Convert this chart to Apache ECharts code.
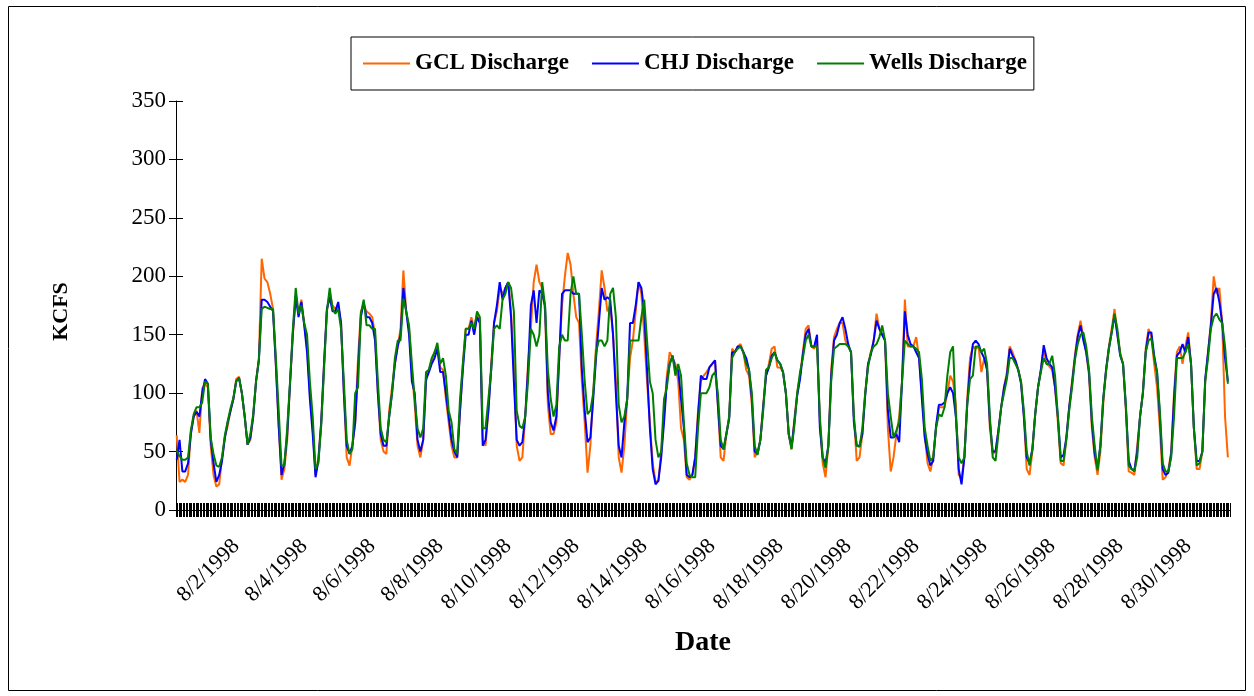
<!DOCTYPE html>
<html>
<head>
<meta charset="utf-8">
<script src="https://cdn.jsdelivr.net/npm/echarts@6/dist/echarts.min.js"></script>
<style>
  html, body { margin: 0; padding: 0; background: #fff; }
  #chart { width: 1254px; height: 696px; }
</style>
</head>
<body>
<div id="chart"></div>
<script>
// Discharge in KCFS, sampled every 2 hours through August 1998 (12 readings per day).
const gclDischarge = [
  64, 24, 26, 24, 30, 67, 80, 85, 66, 104, 108, 105,      // 8/1
  55, 30, 20, 22, 45, 62, 72, 85, 95, 112, 114, 100,      // 8/2
  80, 56, 60, 80, 110, 130, 215, 198, 195, 185, 172, 124, // 8/3
  72, 26, 35, 60, 108, 150, 180, 170, 180, 160, 140, 100, // 8/4
  70, 30, 45, 75, 125, 170, 185, 175, 172, 175, 160, 100, // 8/5
  45, 38, 55, 75, 130, 170, 175, 170, 168, 165, 150, 100, // 8/6
  60, 50, 48, 85, 105, 125, 140, 155, 205, 170, 155, 120, // 8/7
  90, 55, 45, 60, 110, 120, 128, 135, 140, 122, 120, 95,  // 8/8
  75, 55, 45, 45, 85, 125, 155, 155, 165, 155, 168, 160,  // 8/9
  60, 55, 85, 125, 160, 170, 190, 185, 190, 195, 170, 120,// 8/10
  55, 42, 45, 80, 125, 155, 195, 210, 195, 190, 170, 90,  // 8/11
  65, 65, 75, 130, 175, 200, 220, 210, 185, 165, 160, 110,// 8/12
  75, 32, 55, 100, 140, 170, 205, 190, 170, 175, 150, 110,// 8/13
  45, 32, 55, 95, 130, 145, 170, 195, 185, 150, 110, 75,  // 8/14
  40, 24, 25, 50, 80, 115, 135, 130, 125, 110, 70, 60,    // 8/15
  28, 26, 30, 45, 85, 110, 115, 118, 122, 125, 128, 90,   // 8/16
  45, 42, 65, 80, 138, 135, 140, 142, 135, 120, 115, 90,  // 8/17
  45, 50, 60, 90, 115, 125, 138, 140, 122, 122, 118, 100, // 8/18
  65, 52, 78, 100, 115, 135, 155, 158, 140, 138, 145, 75, // 8/19
  40, 28, 55, 120, 148, 155, 160, 160, 145, 140, 135, 80, // 8/20
  42, 45, 65, 100, 125, 135, 145, 168, 155, 150, 145, 70, // 8/21
  33, 45, 65, 80, 110, 180, 140, 140, 140, 148, 130, 100, // 8/22
  65, 40, 33, 45, 70, 88, 88, 88, 100, 115, 110, 90,      // 8/23
  30, 27, 45, 95, 130, 140, 138, 140, 118, 130, 120, 70,  // 8/24
  48, 50, 68, 88, 105, 118, 140, 135, 128, 120, 110, 80,  // 8/25
  35, 30, 50, 82, 105, 120, 138, 125, 123, 120, 105, 75,  // 8/26
  40, 38, 62, 88, 110, 132, 150, 162, 148, 135, 115, 70,  // 8/27
  45, 30, 50, 90, 120, 140, 155, 172, 150, 135, 125, 85,  // 8/28
  33, 32, 30, 55, 80, 100, 138, 155, 148, 125, 105, 70,   // 8/29
  26, 28, 35, 50, 100, 135, 140, 125, 140, 152, 125, 70,  // 8/30
  35, 35, 50, 110, 135, 160, 200, 185, 190, 160, 80, 45   // 8/31
];

const chjDischarge = [
  43, 60, 33, 33, 40, 65, 80, 84, 80, 100, 112, 108,
  60, 40, 24, 30, 42, 62, 75, 85, 95, 110, 113, 100,
  80, 56, 62, 80, 110, 128, 180, 180, 178, 174, 170, 124,
  72, 30, 40, 65, 108, 152, 183, 165, 178, 158, 135, 95,
  65, 28, 42, 75, 125, 172, 182, 170, 170, 178, 160, 100,
  55, 48, 55, 75, 120, 165, 178, 165, 165, 160, 145, 100,
  65, 55, 55, 80, 100, 125, 140, 150, 190, 170, 150, 110,
  100, 60, 50, 60, 112, 118, 125, 130, 138, 118, 118, 100,
  80, 60, 50, 45, 85, 120, 150, 150, 162, 150, 165, 160,
  55, 60, 85, 120, 160, 175, 195, 180, 190, 195, 165, 110,
  60, 55, 58, 80, 120, 175, 188, 160, 188, 185, 175, 100,
  75, 68, 80, 130, 185, 188, 188, 188, 185, 185, 185, 120,
  85, 58, 62, 95, 130, 160, 190, 180, 182, 180, 150, 100,
  55, 45, 75, 95, 160, 160, 175, 195, 190, 170, 120, 70,
  35, 22, 25, 45, 75, 110, 125, 132, 120, 120, 95, 70,
  30, 28, 30, 45, 80, 115, 112, 112, 122, 125, 128, 90,
  55, 52, 65, 78, 135, 135, 140, 140, 135, 130, 120, 95,
  50, 48, 60, 88, 115, 122, 132, 135, 128, 125, 118, 100,
  65, 54, 75, 98, 112, 133, 150, 155, 140, 140, 150, 70,
  45, 40, 55, 115, 145, 150, 160, 165, 155, 142, 135, 75,
  55, 55, 65, 98, 125, 133, 145, 162, 155, 150, 145, 85,
  62, 62, 65, 58, 110, 170, 150, 142, 140, 135, 130, 95,
  62, 48, 38, 42, 72, 90, 90, 92, 100, 105, 100, 80,
  35, 22, 45, 90, 122, 142, 145, 142, 135, 130, 120, 75,
  50, 50, 68, 88, 105, 115, 138, 132, 128, 120, 108, 80,
  45, 40, 52, 82, 105, 120, 141, 130, 125, 122, 105, 80,
  45, 47, 62, 88, 108, 130, 148, 158, 145, 135, 118, 75,
  48, 36, 55, 95, 120, 138, 152, 167, 150, 132, 125, 88,
  42, 35, 34, 50, 80, 100, 135, 152, 152, 132, 118, 80,
  35, 30, 32, 48, 95, 132, 135, 142, 135, 148, 125, 70,
  42, 42, 50, 112, 135, 158, 185, 190, 178, 160, 130, 110
];

const wellsDischarge = [
  51, 46, 43, 43, 45, 68, 82, 88, 88, 92, 110, 108,
  62, 48, 38, 37, 45, 64, 76, 87, 96, 110, 113, 100,
  80, 56, 65, 82, 110, 128, 172, 174, 173, 172, 172, 130,
  85, 38, 38, 70, 110, 155, 190, 168, 175, 160, 150, 110,
  80, 35, 40, 72, 120, 170, 190, 172, 168, 172, 155, 110,
  60, 48, 52, 100, 105, 168, 180, 158, 158, 155, 155, 110,
  70, 60, 58, 80, 100, 130, 145, 145, 181, 170, 158, 125,
  95, 70, 62, 70, 118, 120, 130, 135, 143, 125, 130, 115,
  85, 75, 52, 48, 95, 125, 155, 155, 160, 155, 170, 165,
  70, 70, 95, 120, 155, 158, 155, 180, 185, 195, 190, 170,
  85, 72, 70, 80, 110, 155, 150, 140, 150, 195, 175, 120,
  95, 80, 90, 140, 150, 145, 145, 185, 200, 185, 185, 150,
  110, 82, 85, 100, 135, 145, 145, 140, 145, 185, 190, 165,
  90, 75, 80, 95, 145, 145, 145, 145, 165, 180, 145, 110,
  100, 60, 45, 50, 95, 105, 125, 132, 115, 125, 115, 75,
  40, 30, 28, 28, 70, 100, 100, 100, 105, 115, 118, 100,
  60, 52, 65, 80, 130, 135, 138, 140, 135, 125, 120, 100,
  55, 47, 60, 85, 120, 122, 130, 135, 128, 125, 118, 100,
  65, 52, 72, 100, 118, 130, 145, 150, 140, 140, 140, 80,
  45, 36, 55, 110, 138, 140, 142, 142, 142, 140, 135, 80,
  55, 54, 70, 100, 122, 135, 140, 142, 148, 158, 145, 100,
  80, 62, 68, 75, 110, 145, 142, 140, 140, 138, 135, 112,
  70, 55, 42, 45, 70, 82, 80, 88, 115, 135, 140, 80,
  45, 40, 45, 90, 112, 115, 140, 140, 135, 138, 125, 80,
  45, 42, 65, 88, 100, 112, 130, 130, 125, 120, 110, 85,
  50, 38, 52, 82, 105, 118, 130, 125, 125, 132, 115, 80,
  42, 42, 60, 85, 105, 128, 142, 150, 152, 140, 120, 80,
  55, 34, 55, 95, 118, 138, 152, 168, 155, 133, 125, 90,
  38, 35, 33, 45, 80, 100, 135, 145, 147, 130, 118, 85,
  40, 33, 33, 45, 80, 130, 130, 130, 135, 142, 125, 70,
  38, 40, 50, 110, 130, 155, 165, 168, 163, 160, 140, 108
];

const seriesNames = ['GCL Discharge', 'CHJ Discharge', 'Wells Discharge'];
const yTicks = [0, 50, 100, 150, 200, 250, 300, 350];

// Hourly category axis for the month: 31 days x 24 hours.
const hourStamps = [];
for (let d = 1; d <= 31; d++) {
  for (let h = 0; h < 24; h++) hourStamps.push('8/' + d + '/1998 ' + h + ':00');
}
const STEP = 2;            // hours between readings
const LABEL_EVERY = 48;    // a date label every second day
const LABEL_OFFSET = 42;

const serif = '"Liberation Serif", "Times New Roman", serif';
const toPairs = arr => arr.map((v, i) => [i * STEP, v]);

const chart = echarts.init(document.getElementById('chart'), null, { renderer: 'canvas' });

const lineSeries = (name, data, color) => ({
  name, type: 'line', data: toPairs(data), xAxisIndex: 0, yAxisIndex: 0,
  showSymbol: false, symbol: 'none',
  lineStyle: { color, width: 2 }, itemStyle: { color },
  emphasis: { disabled: true }
});

chart.setOption({
  animation: false,
  backgroundColor: '#fff',
  graphic: [{
    type: 'rect', shape: { x: 8.5, y: 6.5, width: 1237, height: 684 },
    style: { fill: 'none', stroke: '#000', lineWidth: 1 }, silent: true
  }],
  legend: {
    data: seriesNames,
    left: 351, top: 37,
    icon: 'rect', itemWidth: 47, itemHeight: 2, itemGap: 23,
    padding: [15, 7, 15, 12],
    borderColor: '#000', borderWidth: 1, backgroundColor: '#fff',
    textStyle: { fontFamily: serif, fontSize: 23, fontWeight: 'bold', color: '#000' }
  },
  grid: { left: 176, right: 24, top: 101, bottom: 186, containLabel: false },
  xAxis: [{
    type: 'category', data: hourStamps, boundaryGap: true,
    axisLine: { show: true, lineStyle: { color: '#000', width: 1 } },
    axisTick: { show: true, interval: 0, length: 7, lineStyle: { color: '#000', width: 1 } },
    axisLabel: {
      interval: idx => idx % LABEL_EVERY === LABEL_OFFSET,
      formatter: v => v.split(' ')[0],
      rotate: 45, margin: 33,
      fontFamily: serif, fontSize: 22, color: '#000'
    },
    splitLine: { show: false },
    name: 'Date', nameLocation: 'middle', nameGap: 119,
    nameTextStyle: { fontFamily: serif, fontSize: 28, fontWeight: 'bold', color: '#000' }
  }, {
    type: 'category', data: hourStamps, boundaryGap: true, position: 'bottom',
    axisLine: { show: false },
    axisTick: { show: true, inside: true, interval: 0, length: 7, lineStyle: { color: '#000', width: 1 } },
    axisLabel: { show: false }, splitLine: { show: false }
  }],
  yAxis: [{
    type: 'value', min: yTicks[0], max: yTicks[yTicks.length - 1], interval: 50,
    axisLine: { show: true, lineStyle: { color: '#000', width: 1 } },
    axisTick: { show: true, length: 7, lineStyle: { color: '#000', width: 1 } },
    axisLabel: { margin: 10, fontFamily: serif, fontSize: 23, color: '#000' },
    splitLine: { show: false },
    name: 'KCFS', nameLocation: 'middle', nameGap: 104,
    nameTextStyle: { fontFamily: serif, fontSize: 22, fontWeight: 'bold', color: '#000', padding: [0, 12, 0, 0] }
  }, {
    type: 'value', min: yTicks[0], max: yTicks[yTicks.length - 1], interval: 50, position: 'left',
    axisLine: { show: false },
    axisTick: { show: true, inside: true, length: 7, lineStyle: { color: '#000', width: 1 } },
    axisLabel: { show: false }, splitLine: { show: false }
  }],
  series: [
    lineSeries(seriesNames[0], gclDischarge, '#FF6600'),
    lineSeries(seriesNames[1], chjDischarge, '#0000FF'),
    lineSeries(seriesNames[2], wellsDischarge, '#008000')
  ]
});
</script>
</body>
</html>
